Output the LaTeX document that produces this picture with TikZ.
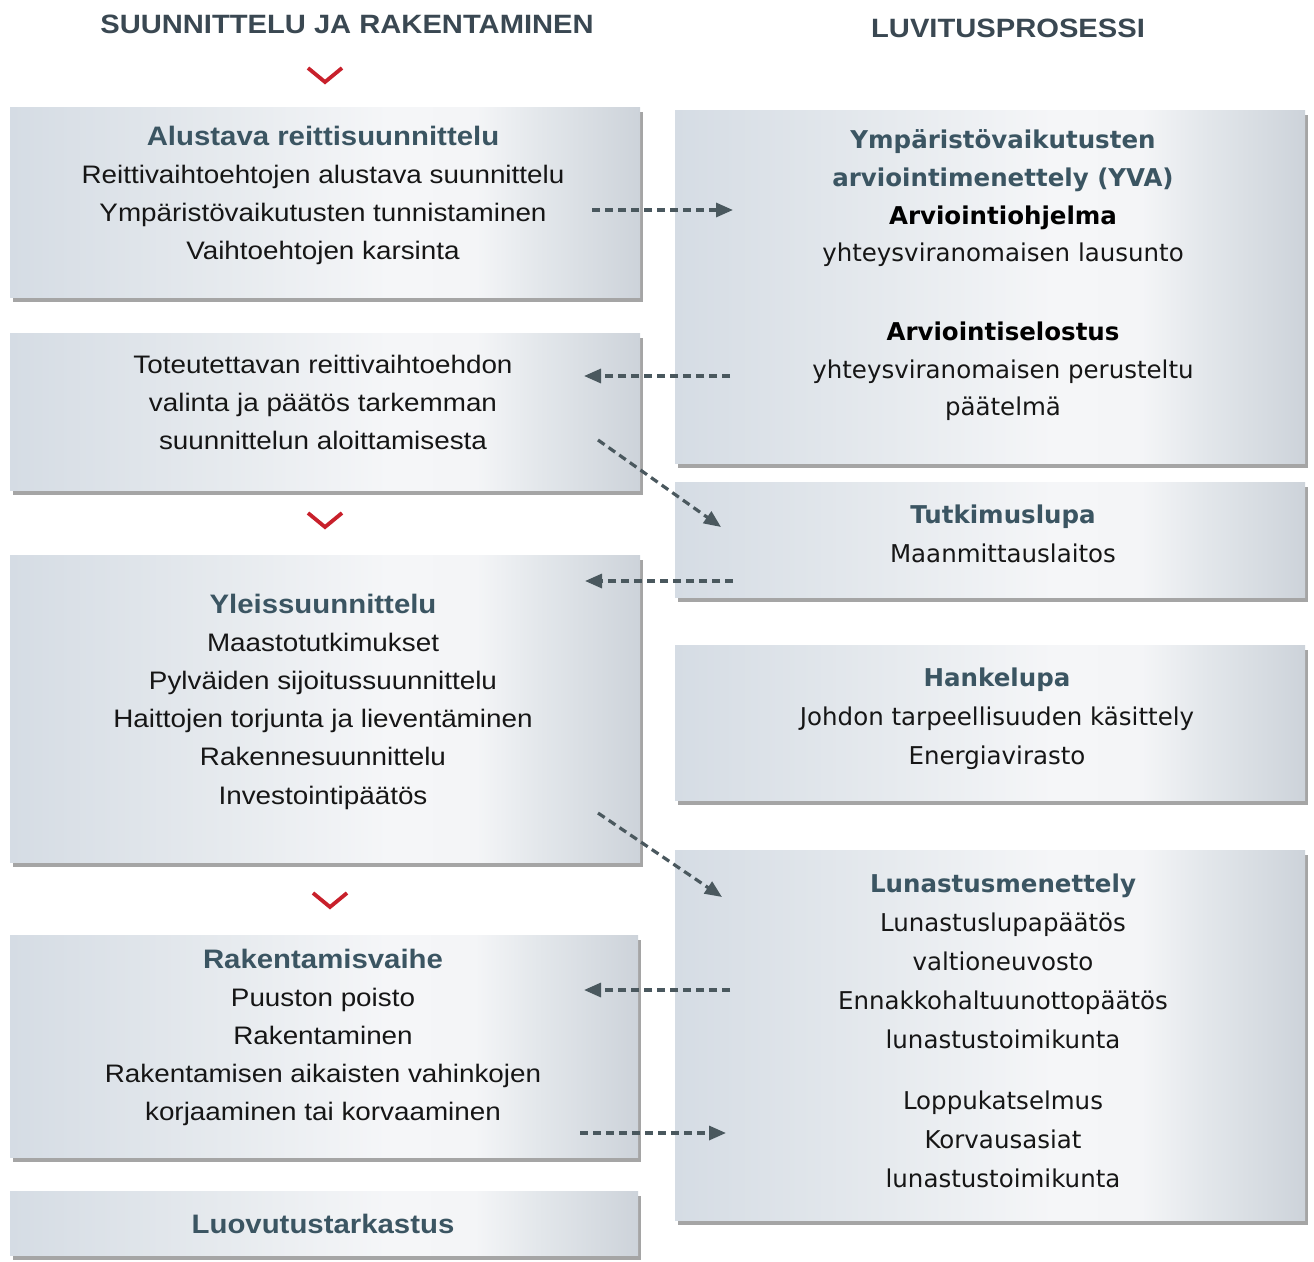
\documentclass[tikz,border=0pt]{standalone}
\usepackage{fontspec}
\setmainfont{Liberation Sans}
\newfontfamily\lfont[FakeStretch=1.1]{Liberation Sans}
\newfontfamily\rfont{DejaVu Sans}
\usetikzlibrary{arrows.meta,shadows}
\definecolor{titlec}{HTML}{3B5562}
\definecolor{headc}{HTML}{3A4852}
\definecolor{bodyc}{HTML}{161616}
\definecolor{arrc}{HTML}{4A585E}
\definecolor{chevc}{HTML}{C8202B}
\definecolor{sA}{HTML}{D5DCE4}
\definecolor{sB}{HTML}{E6EAEE}
\definecolor{sC}{HTML}{F5F6F8}
\definecolor{sD}{HTML}{F4F5F7}
\definecolor{sE}{HTML}{E3E7EB}
\definecolor{sF}{HTML}{CDD3DA}
\pgfdeclarehorizontalshading{boxshade}{100bp}{color(0bp)=(sA); color(25bp)=(sA); color(42bp)=(sB); color(55bp)=(sC); color(62bp)=(sD); color(67bp)=(sE); color(75bp)=(sF); color(100bp)=(sF)}
\newcommand\lbt[1]{{\bfseries\color{titlec}\fontsize{26.7}{38.2}\selectfont #1}}
\newcommand\rbt[1]{{\bfseries\color{titlec}#1}}
\newcommand\rbk[1]{{\bfseries\color{black}#1}}
\begin{document}
\begin{tikzpicture}[x=1pt,y=-1pt,
  panel/.style={shade, shading=boxshade, draw=none, inner sep=0, anchor=north west,
    drop shadow={shadow xshift=3pt, shadow yshift=-5pt, fill=black!70, opacity=0.5}},
  ltxt/.style={font=\lfont\fontsize{25.3}{38.2}\selectfont, text=bodyc, align=center, anchor=north, inner sep=0},
  rtxt/.style={font=\rfont\fontsize{24.5}{39}\selectfont, text=bodyc, align=center, anchor=north, inner sep=0},
  headl/.style={font=\lfont\bfseries\fontsize{26.5}{30}\selectfont, text=headc, inner sep=0},
  conn/.style={draw=arrc, line width=3.2pt, dash pattern=on 8pt off 5pt,
    -{Triangle[length=17pt,width=14pt]}},
  chev/.style={draw=chevc, line width=3.8pt, line join=miter}
]
\useasboundingbox (0,0) rectangle (1314,1261);
\fill[white] (0,0) rectangle (1314,1261);

% headers
\node[headl] (h1) at (347,24) {SUUNNITTELU JA RAKENTAMINEN};
\node[headl] (h2) at (1008,28) {LUVITUSPROSESSI};

% chevrons
\coordinate (ch1) at (325,75);
\coordinate (ch2) at (325,520);
\coordinate (ch3) at (330,900);
\foreach \c in {ch1,ch2,ch3}
  \draw[chev] (\c) ++(-17,-7) -- ++(17,14) -- ++(17,-14);

% left panels
\node[panel, minimum width=630pt, minimum height=190pt] (A) at (10,107) {};
\node[panel, minimum width=630pt, minimum height=157pt] (B) at (10,333) {};
\node[panel, minimum width=630pt, minimum height=307pt] (C) at (10,555) {};
\node[panel, minimum width=628pt, minimum height=222pt] (D) at (10,935) {};
\node[panel, minimum width=628pt, minimum height=64pt] (E) at (10,1191) {};

% right panels
\node[panel, minimum width=630pt, minimum height=353pt] (R1) at (675,110) {};
\node[panel, minimum width=630pt, minimum height=115pt] (R2) at (675,482) {};
\node[panel, minimum width=630pt, minimum height=155pt] (R3) at (675,645) {};
\node[panel, minimum width=630pt, minimum height=370pt] (R4) at (675,850) {};

% left texts
\node[ltxt] (At) at (323,125.5) {\lbt{Alustava reittisuunnittelu}\\Reittivaihtoehtojen alustava suunnittelu\\Ympäristövaikutusten tunnistaminen\\Vaihtoehtojen karsinta};
\node[ltxt] (Bt) at (323,355) {Toteutettavan reittivaihtoehdon\\valinta ja päätös tarkemman\\suunnittelun aloittamisesta};
\node[ltxt] (Ct) at (323,593.5) {\lbt{Yleissuunnittelu}\\Maastotutkimukset\\Pylväiden sijoitussuunnittelu\\Haittojen torjunta ja lieventäminen\\Rakennesuunnittelu\\Investointipäätös};
\node[ltxt] (Dt) at (323,948.5) {\lbt{Rakentamisvaihe}\\Puuston poisto\\Rakentaminen\\Rakentamisen aikaisten vahinkojen\\korjaaminen tai korvaaminen};
\node[ltxt] (Et) at (323,1213.5) {\lbt{Luovutustarkastus}};

% right texts
\node[rtxt, font=\rfont\fontsize{24.5}{37.7}\selectfont] (R1t) at (1003,129.5) {\rbt{Ympäristövaikutusten}\\\rbt{arviointimenettely (YVA)}\\\rbk{Arviointiohjelma}\\yhteysviranomaisen lausunto\\[41pt]\rbk{Arviointiselostus}\\yhteysviranomaisen perusteltu\\päätelmä};
\node[rtxt] (R2t) at (1003,504.5) {\rbt{Tutkimuslupa}\\Maanmittauslaitos};
\node[rtxt] (R3t) at (997,667.5) {\rbt{Hankelupa}\\Johdon tarpeellisuuden käsittely\\Energiavirasto};
\node[rtxt] (R4t) at (1003,873.5) {\rbt{Lunastusmenettely}\\Lunastuslupapäätös\\valtioneuvosto\\Ennakkohaltuunottopäätös\\lunastustoimikunta\\[22pt]Loppukatselmus\\Korvausasiat\\lunastustoimikunta};

% connector end points
\coordinate (a1s) at (592,210);  \coordinate (a1e) at (733,210);
\coordinate (a2s) at (730,376);  \coordinate (a2e) at (584,376);
\coordinate (a3s) at (598,440);  \coordinate (a3e) at (721,527);
\coordinate (a4s) at (733,581);  \coordinate (a4e) at (585,581);
\coordinate (a5s) at (598,813);  \coordinate (a5e) at (722,897);
\coordinate (a6s) at (730,990);  \coordinate (a6e) at (584,990);
\coordinate (a7s) at (580,1133); \coordinate (a7e) at (726,1133);
\foreach \i in {1,...,7}
  \draw[conn] (a\i s) -- (a\i e);
\end{tikzpicture}
\end{document}
